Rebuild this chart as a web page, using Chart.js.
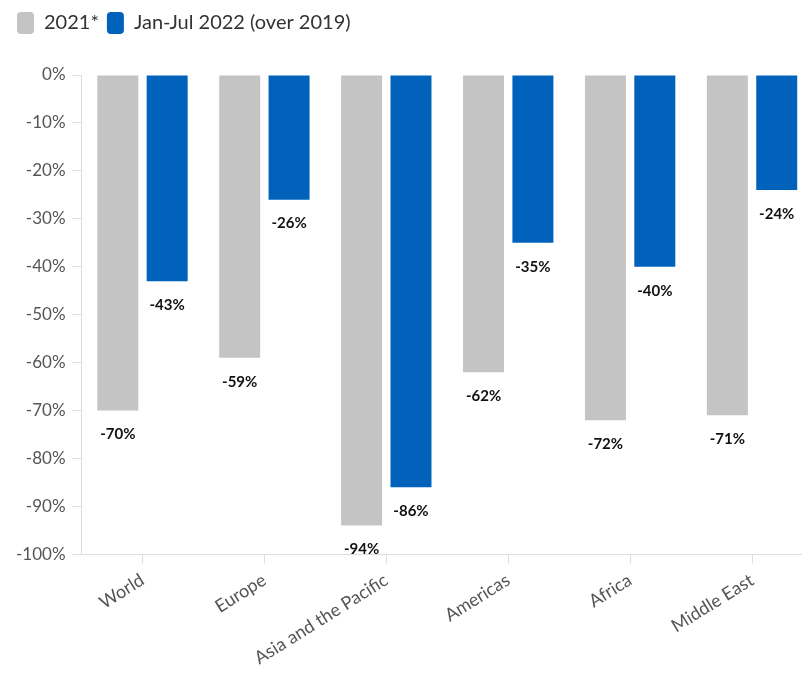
<!DOCTYPE html>
<html>
<head>
<meta charset="utf-8">
<script src="https://cdn.jsdelivr.net/npm/chart.js@4"></script>
<style>
  html, body { margin: 0; padding: 0; background: #fff; overflow: hidden; }
  #wrap { width: 813px; height: 685px; }
</style>
</head>
<body>
<div id="wrap"><canvas id="grafico"></canvas></div>
<script>
// datos
const regiones = ['World', 'Europe', 'Asia and the Pacific', 'Americas', 'Africa', 'Middle East'];
const valores2021 = [-70, -59, -94, -62, -72, -71];
const valores2022 = [-43, -26, -86, -35, -40, -24];
const ticksY = [0, -10, -20, -30, -40, -50, -60, -70, -80, -90, -100];

// etiquetas debajo de cada barra
const etiquetasBarras = {
    id: 'etiquetasBarras',
    afterDatasetsDraw(chart) {
        const ctx = chart.ctx;
        ctx.save();
        ctx.font = 'bold 15px Lato';
        ctx.fillStyle = '#111';
        ctx.textAlign = 'center';
        ctx.textBaseline = 'middle';
        chart.data.datasets.forEach((ds, i) => {
            chart.getDatasetMeta(i).data.forEach((bar, j) => {
                ctx.fillText(ds.data[j] + '%', bar.x, bar.y + 24);
            });
        });
        ctx.restore();
    }
};

const ctx = document.getElementById('grafico').getContext('2d');
new Chart(ctx, {
    type: 'bar',
    data: {
        labels: regiones,
        datasets: [
            {
                label: '2021*',
                data: valores2021,
                backgroundColor: '#c4c4c4',
                categoryPercentage: 0.81,
                barPercentage: 0.83
            },
            {
                label: 'Jan-Jul 2022 (over 2019)',
                data: valores2022,
                backgroundColor: '#0062bb',
                categoryPercentage: 0.81,
                barPercentage: 0.83
            }
        ]
    },
    options: {
        responsive: true,
        maintainAspectRatio: false,
        animation: false,
        layout: { padding: { left: 9, right: 0, top: 4, bottom: 10 } },
        plugins: {
            legend: {
                position: 'top',
                align: 'start',
                labels: {
                    font: { family: 'Lato', size: 20 },
                    color: '#333',
                    boxWidth: 17,
                    boxHeight: 22,
                    useBorderRadius: true,
                    borderRadius: 4,
                    padding: 8
                }
            },
            tooltip: { enabled: false }
        },
        scales: {
            x: {
                grid: { display: true, drawOnChartArea: false, offset: false, tickLength: 9, color: '#ddd' },
                border: { color: '#ddd' },
                ticks: {
                    font: { family: 'Lato', size: 18 },
                    color: '#555',
                    minRotation: 32,
                    maxRotation: 32,
                    padding: 6
                }
            },
            y: {
                min: -100,
                max: 0,
                afterBuildTicks: axis => { axis.ticks = ticksY.map(v => ({ value: v })); },
                grid: { display: true, drawOnChartArea: false, tickLength: 9, color: '#ddd' },
                border: { color: '#ddd' },
                ticks: {
                    font: { family: 'Lato', size: 17 },
                    color: '#555',
                    padding: 7,
                    callback: v => v + '%'
                }
            }
        }
    },
    plugins: [etiquetasBarras, {
        id: 'espacioLeyenda',
        beforeInit(chart) {
            const fitOrig = chart.legend.fit;
            chart.legend.fit = function () {
                fitOrig.bind(chart.legend)();
                this.height += 31;
            };
        }
    }]
});
</script>
</body>
</html>
